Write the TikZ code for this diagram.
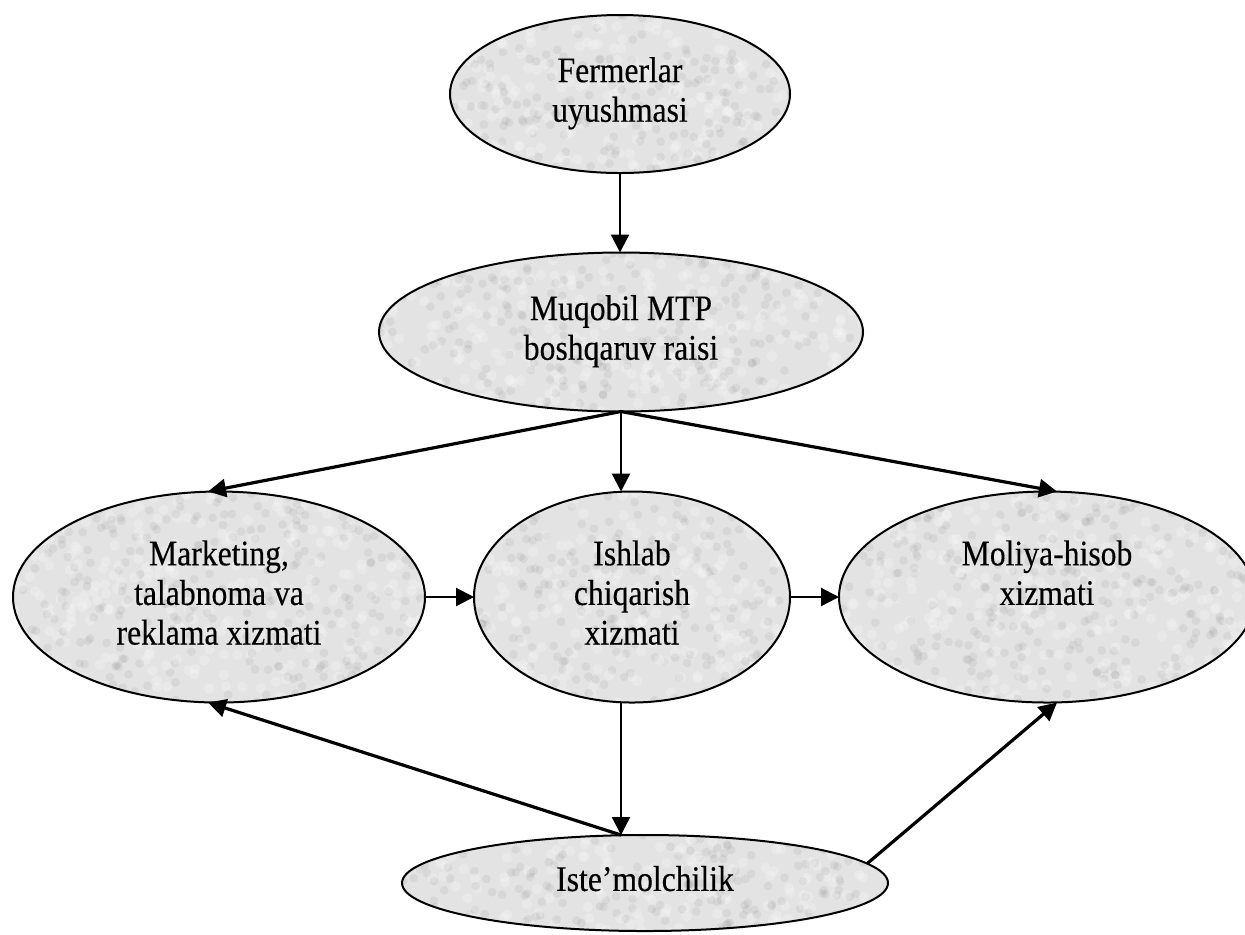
\documentclass[tikz,border=0pt]{standalone}
\usepackage{fontspec}
\setmainfont{Liberation Serif}[FakeStretch=0.88, UprightFeatures={FakeBold=0.25}]
\usetikzlibrary{arrows.meta,shapes.geometric}
\pgfmathsetseed{7}
\tikzset{
  x=0.5pt, y=-0.5pt,
  speckle/.style={
    path picture={
      \foreach \k in {1,...,380}{
        \pgfmathsetmacro\ax{rand*250}\pgfmathsetmacro\ay{rand*110}
        \fill[black!55, opacity=0.10] ([shift={(\ax,\ay)}]path picture bounding box.center) circle (2.2pt);
        \pgfmathsetmacro\bx{rand*250}\pgfmathsetmacro\by{rand*110}
        \fill[white, opacity=0.22] ([shift={(\bx,\by)}]path picture bounding box.center) circle (2.6pt);
      }
    }
  },
  box/.style={ellipse, draw=black, line width=1pt, fill=black!11, speckle,
    inner sep=0pt, outer sep=0pt, align=center,
    font=\fontsize{18}{19.8}\selectfont},
  arrA/.style={-{Triangle[length=9pt,width=9pt]}, line width=1.1pt},
  arrB/.style={-{Triangle[length=9pt,width=9pt]}, line width=1.6pt},
}
\begin{document}
\begin{tikzpicture}
\useasboundingbox (0,0) rectangle (1245,934);

\node[box, minimum width=170pt, minimum height=79pt] (ferm) at (620,94)
  {\strut Fermerlar\\\strut uyushmasi};
\node[box, minimum width=242pt, minimum height=79.5pt] (muq) at (621,332)
  {\strut Muqobil MTP\\\strut boshqaruv raisi};
\node[box, minimum width=206pt, minimum height=105.5pt] (mkt) at (219,597)
  {\strut Marketing,\\\strut talabnoma va\\\strut reklama xizmati};
\node[box, minimum width=158pt, minimum height=105.5pt] (ish) at (632,597)
  {\strut Ishlab\\\strut chiqarish\\\strut xizmati};
\node[box, minimum width=208pt, minimum height=105.5pt] (mol) at (1047,597)
  {\strut Moliya-hisob\\\strut xizmati\\\strut};
\node[box, minimum width=243pt, minimum height=48pt] (ist) at (645,883)
  {\strut Iste’molchilik};

\coordinate (istTop) at (muq.south |- ist.north);

\draw[arrA] (ferm.south) -- (ferm.south |- muq.north);
\draw[arrB] (muq.south) -- ([xshift=-5.5pt]mkt.north);
\draw[arrA] (muq.south) -- (muq.south |- ish.north);
\draw[arrB] (muq.south) -- ([xshift=5pt]mol.north);
\draw[arrA] (mkt.east) -- (ish.west);
\draw[arrA] (ish.east) -- (mol.west);
\draw[arrA] (muq.south |- ish.south) -- (istTop);
\draw[arrB] (istTop) -- ([xshift=-5.5pt]mkt.south);
\draw[arrB] (ist.5.5) -- ([xshift=5pt]mol.south);
\end{tikzpicture}
\end{document}
